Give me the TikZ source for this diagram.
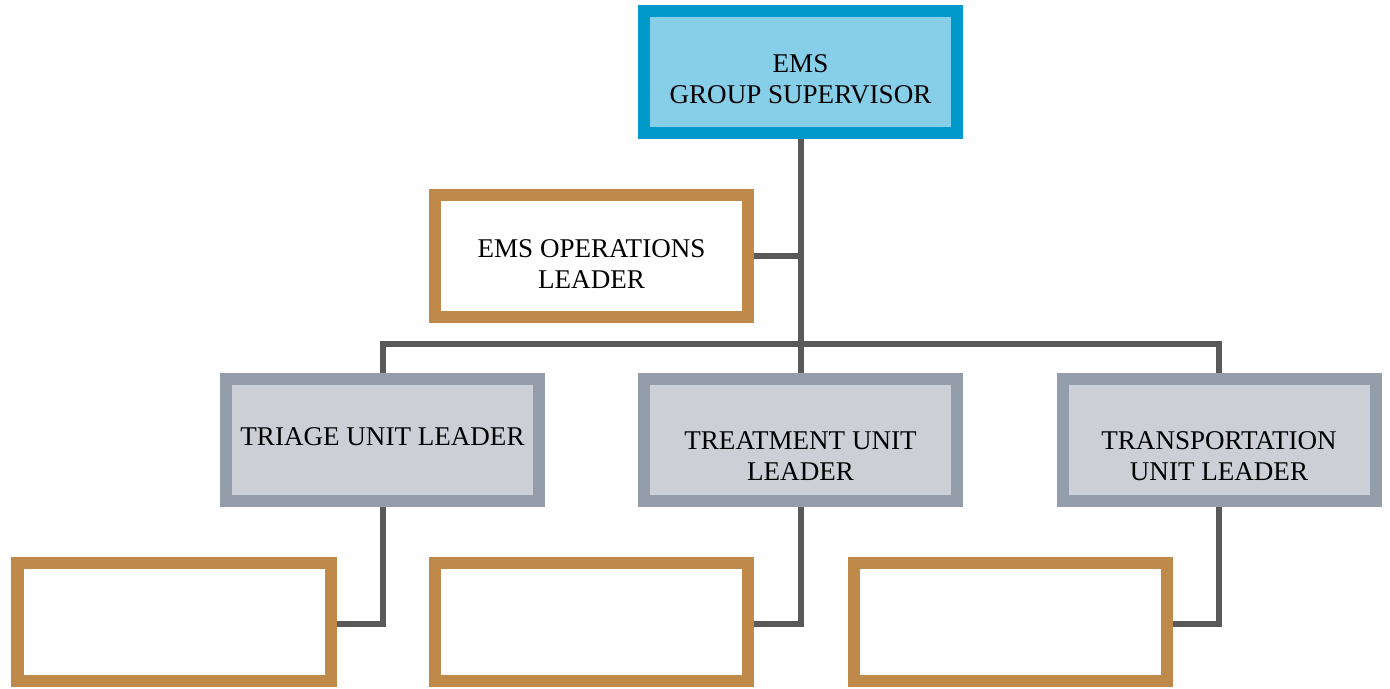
\documentclass[tikz,border=0pt]{standalone}
\usepackage{fontspec}
\setmainfont{Liberation Serif}
\usepackage{tikz}
\usetikzlibrary{calc}

\definecolor{supfill}{RGB}{135,206,232}
\definecolor{supline}{RGB}{0,153,204}
\definecolor{opsline}{RGB}{191,137,73}
\definecolor{unitfill}{RGB}{204,208,214}
\definecolor{unitline}{RGB}{148,158,170}
\definecolor{linkcol}{RGB}{89,89,91}

\begin{document}
\begin{tikzpicture}

% Stili per i riquadri e i collegamenti
\tikzset{box/.style={rectangle, line width=0.24cm, minimum width=6.26cm, minimum height=2.44cm},
  boxtext/.style={align=center, font=\fontsize{15.4}{17.9}\selectfont},
  supbox/.style={box, draw=supline, fill=supfill},
  opsbox/.style={box, draw=opsline, fill=white},
  unitbox/.style={box, draw=unitline, fill=unitfill},
  link/.style={draw=linkcol, line width=0.12cm}}

\useasboundingbox (0,0) rectangle (27.8,-13.76);

% --- Parte superiore: supervisore e operazioni ---
\node[supbox, label={[boxtext, yshift=-0.16cm]center:EMS\\GROUP SUPERVISOR}] (sup) at (16.01,-1.43) {};
\node[opsbox, label={[boxtext, yshift=-0.16cm]center:EMS OPERATIONS\\LEADER}] (ops) at (11.83,-5.12) {};

% --- Unita' ---
\node[unitbox, label={[boxtext, yshift=0.06cm]center:TRIAGE UNIT LEADER}] (triage) at (7.65,-8.8) {};
\node[unitbox, label={[boxtext, yshift=-0.32cm]center:TREATMENT UNIT\\LEADER}] (treat) at (16.01,-8.8) {};
\node[unitbox, label={[boxtext, yshift=-0.32cm]center:TRANSPORTATION\\UNIT LEADER}] (transp) at (24.38,-8.8) {};

% --- Riquadri vuoti in basso ---
\node[opsbox, minimum height=2.36cm] (blanka) at (3.48,-12.44) {};
\node[opsbox, minimum height=2.36cm] (blankb) at (11.83,-12.44) {};
\node[opsbox, minimum height=2.36cm] (blankc) at (20.21,-12.44) {};

% Collegamenti
\coordinate (bus) at (16.01,-6.88);
\draw[link] (sup.south) -- (treat.north);
\draw[link] (ops.east) -- (ops.east -| sup.south);
\draw[link] (triage.north) |- (bus) -| (transp.north);
\draw[link] (triage.south) |- ($(blanka.east)+(0,-0.04)$);
\draw[link] (treat.south) |- ($(blankb.east)+(0,-0.04)$);
\draw[link] (transp.south) |- ($(blankc.east)+(0,-0.04)$);

\end{tikzpicture}
\end{document}
